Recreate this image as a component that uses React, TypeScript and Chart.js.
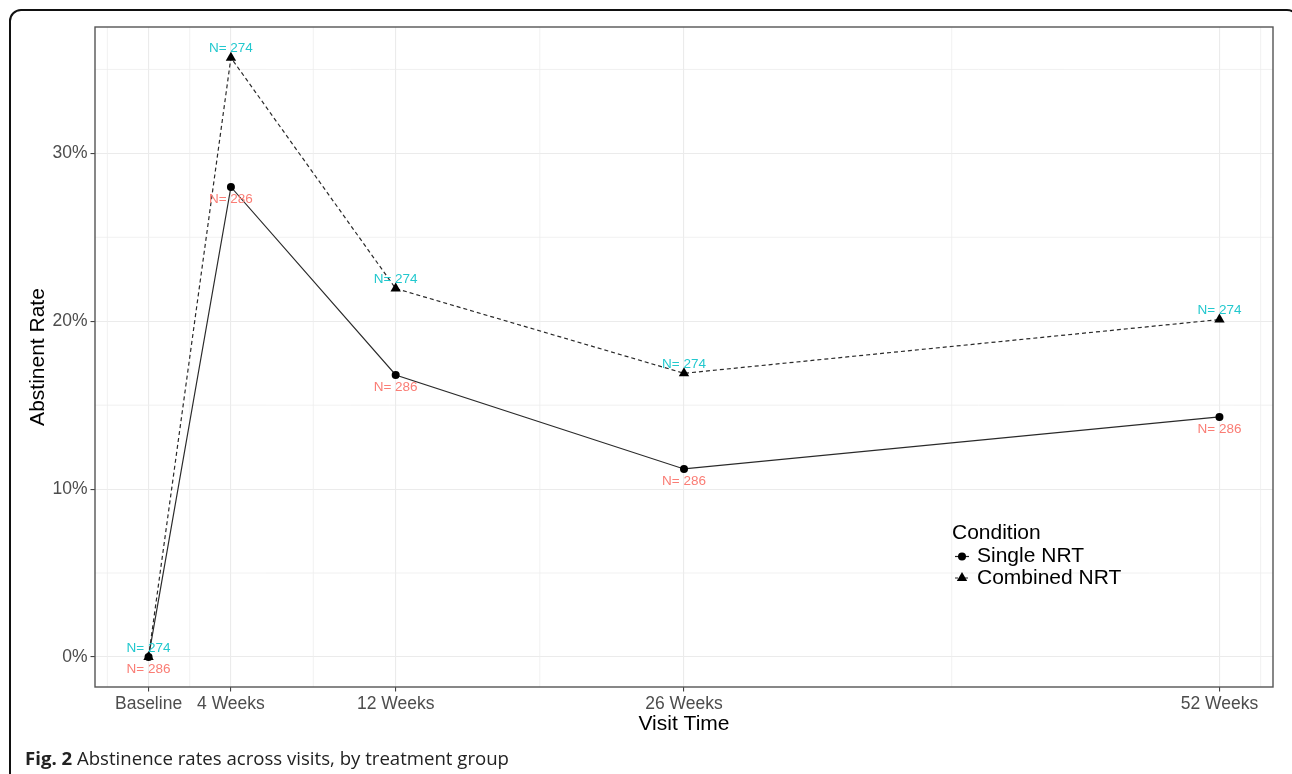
import React, { useEffect, useRef } from "react";
import { Chart, registerables } from "chart.js";

Chart.register(...registerables);

const weeks = [0, 4, 12, 26, 52];
const visitLabels = ["Baseline", "4 Weeks", "12 Weeks", "26 Weeks", "52 Weeks"];
const singleRate = [0, 28.0, 16.8, 11.2, 14.3];
const combinedRate = [0, 35.7, 21.95, 16.9, 20.1];
const singleN = [286, 286, 286, 286, 286];
const combinedN = [274, 274, 274, 274, 274];
const seriesNames = ["Single NRT", "Combined NRT"];
const yTickValues = [0, 10, 20, 30];
const xMinorGrid = [-2, 2, 8, 19, 39, 54];
const yMinorGrid = [5, 15, 25, 35];

const FONT = "'Liberation Sans', Arial, sans-serif";
const SALMON = "#FA7D75";
const CYAN = "#22C8CE";

const minorGridPlugin = {
  id: "minorGrid",
  beforeDatasetsDraw(chart: any) {
    const { ctx, chartArea: a, scales } = chart;
    ctx.save();
    ctx.strokeStyle = "#ededed";
    ctx.lineWidth = 0.8;
    xMinorGrid.forEach((v) => {
      const px = scales.x.getPixelForValue(v);
      if (px < a.left || px > a.right) return;
      ctx.beginPath();
      ctx.moveTo(px, a.top);
      ctx.lineTo(px, a.bottom);
      ctx.stroke();
    });
    yMinorGrid.forEach((v) => {
      const py = scales.y.getPixelForValue(v);
      if (py < a.top || py > a.bottom) return;
      ctx.beginPath();
      ctx.moveTo(a.left, py);
      ctx.lineTo(a.right, py);
      ctx.stroke();
    });
    ctx.restore();
  },
};

const labelsPlugin = {
  id: "nLabels",
  afterDatasetsDraw(chart: any) {
    const { ctx } = chart;
    ctx.save();
    ctx.font = `13.5px ${FONT}`;
    ctx.textAlign = "center";
    ctx.textBaseline = "middle";
    const m0 = chart.getDatasetMeta(0);
    const m1 = chart.getDatasetMeta(1);
    m0.data.forEach((p: any, i: number) => {
      ctx.fillStyle = SALMON;
      ctx.fillText("N= " + singleN[i], p.x, p.y + 12);
    });
    m1.data.forEach((p: any, i: number) => {
      ctx.fillStyle = CYAN;
      ctx.fillText("N= " + combinedN[i], p.x, p.y - 9);
    });
    const a = chart.chartArea;
    ctx.strokeStyle = "#555";
    ctx.lineWidth = 1.4;
    ctx.strokeRect(a.left, a.top, a.right - a.left, a.bottom - a.top);
    ctx.restore();
  },
};

const legendPlugin = {
  id: "insideLegend",
  afterDraw(chart: any) {
    const { ctx } = chart;
    ctx.save();
    ctx.fillStyle = "#000";
    ctx.textBaseline = "middle";
    ctx.textAlign = "left";
    ctx.font = `21px ${FONT}`;
    ctx.fillText("Condition", 952, 533);
    const ys = [556.5, 578];
    seriesNames.forEach((name, i) => {
      const y = ys[i];
      ctx.strokeStyle = "#222";
      ctx.lineWidth = 1.2;
      ctx.setLineDash(i === 1 ? [3, 2] : []);
      ctx.beginPath();
      ctx.moveTo(955, y);
      ctx.lineTo(969, y);
      ctx.stroke();
      ctx.setLineDash([]);
      ctx.fillStyle = "#000";
      ctx.beginPath();
      if (i === 0) {
        ctx.arc(962, y, 4, 0, Math.PI * 2);
      } else {
        const r = 6;
        ctx.moveTo(962, y - r);
        ctx.lineTo(962 + r * 0.866, y + r * 0.5);
        ctx.lineTo(962 - r * 0.866, y + r * 0.5);
        ctx.closePath();
      }
      ctx.fill();
      ctx.font = `21px ${FONT}`;
      ctx.fillText(name, 977, y);
    });
    ctx.restore();
  },
};

export default function App() {
  const ref = useRef<HTMLCanvasElement>(null);
  useEffect(() => {
    if (!ref.current) return;
    Chart.defaults.font.family = FONT;
    const chart = new Chart(ref.current, {
      type: "line",
      data: {
        datasets: [
          {
            label: seriesNames[0],
            data: weeks.map((w, i) => ({ x: w, y: singleRate[i] })),
            borderColor: "#2a2a2a",
            borderWidth: 1.2,
            pointStyle: "circle",
            pointRadius: 4,
            pointBackgroundColor: "#000",
            pointBorderColor: "#000",
            pointBorderWidth: 0,
            tension: 0,
            fill: false,
          },
          {
            label: seriesNames[1],
            data: weeks.map((w, i) => ({ x: w, y: combinedRate[i] })),
            borderColor: "#2a2a2a",
            borderWidth: 1.2,
            borderDash: [4, 3],
            pointStyle: "triangle",
            pointRadius: 6,
            pointBackgroundColor: "#000",
            pointBorderColor: "#000",
            pointBorderWidth: 0,
            tension: 0,
            fill: false,
          },
        ],
      },
      options: {
        animation: false,
        responsive: false,
        events: [],
        layout: { padding: { left: 0, top: 27, right: 19, bottom: 0 } },
        plugins: {
          legend: { display: false },
          tooltip: { enabled: false },
        },
        scales: {
          x: {
            type: "linear",
            min: -2.6,
            max: 54.6,
            afterBuildTicks: (s: any) => {
              s.ticks = weeks.map((v) => ({ value: v }));
            },
            afterFit: (s: any) => {
              s.height = 87;
            },
            ticks: {
              autoSkip: false,
              maxRotation: 0,
              padding: 2,
              color: "#4d4d4d",
              font: { size: 17.5, family: FONT },
              callback: (v: any) => {
                const i = weeks.indexOf(Number(v));
                return i >= 0 ? visitLabels[i] : "";
              },
            },
            grid: {
              color: "#ebebeb",
              lineWidth: 1.1,
              tickColor: "#444",
              tickLength: 4.5,
              drawTicks: true,
            },
            border: { display: false },
            title: {
              display: true,
              text: "Visit Time",
              color: "#000",
              font: { size: 21, family: FONT },
              padding: { top: 0, bottom: 37 },
            },
          },
          y: {
            type: "linear",
            min: -1.79,
            max: 37.53,
            afterBuildTicks: (s: any) => {
              s.ticks = yTickValues.map((v) => ({ value: v }));
            },
            afterFit: (s: any) => {
              s.width = 95;
            },
            ticks: {
              padding: 3,
              color: "#4d4d4d",
              font: { size: 17.5, family: FONT },
              callback: (v: any) => `${v}%`,
            },
            grid: {
              color: "#ebebeb",
              lineWidth: 1.1,
              tickColor: "#444",
              tickLength: 4.5,
              drawTicks: true,
            },
            border: { display: false },
            title: {
              display: true,
              text: "Abstinent Rate",
              color: "#000",
              font: { size: 21, family: FONT },
              padding: { top: 26, bottom: 0 },
            },
          },
        },
      },
      plugins: [minorGridPlugin, labelsPlugin, legendPlugin],
    } as any);
    return () => chart.destroy();
  }, []);

  return (
    <div
      style={{
        position: "fixed",
        left: 0,
        top: 0,
        width: 1292,
        height: 774,
        background: "#fff",
        overflow: "hidden",
      }}
    >
      <div
        style={{
          position: "absolute",
          left: 9,
          top: 9,
          width: 1290,
          height: 820,
          border: "2px solid #111",
          borderRadius: 12,
          boxSizing: "border-box",
        }}
      />
      <canvas
        ref={ref}
        width={1292}
        height={774}
        style={{ position: "absolute", left: 0, top: 0, display: "block" }}
      />
      <div
        style={{
          position: "absolute",
          left: 25,
          top: 746,
          fontFamily: "'Open Sans', sans-serif",
          fontSize: 18.6,
          color: "#222",
          whiteSpace: "nowrap",
          lineHeight: "24px",
        }}
      >
        <b>Fig. 2</b> Abstinence rates across visits, by treatment group
      </div>
    </div>
  );
}
